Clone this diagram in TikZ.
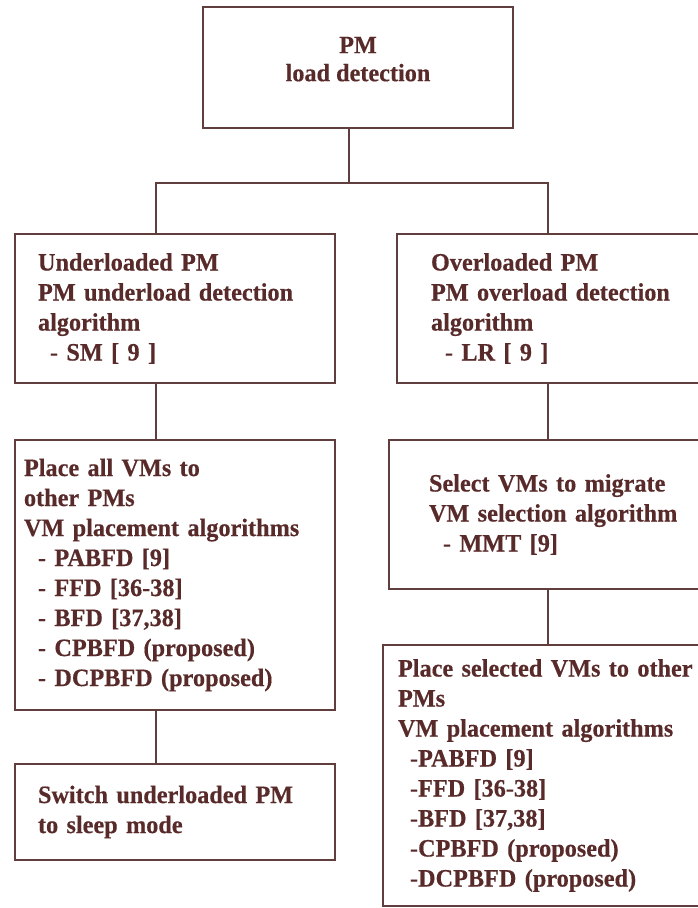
\documentclass[tikz,border=0pt]{standalone}
\usepackage{fontspec}
\setmainfont{Liberation Serif}[BoldFeatures={FakeStretch=0.97,FakeBold=0.4}]
\definecolor{txt}{RGB}{88,42,42}
\definecolor{ln}{RGB}{96,62,62}
\begin{document}
\begin{tikzpicture}[x=1pt,y=-1pt,
  box/.style={draw=ln, line width=1.8pt, rectangle, text=txt, inner ysep=0pt,
    font=\bfseries\fontsize{25}{30}\selectfont},
  conn/.style={draw=ln, line width=1.6pt}]
\useasboundingbox (0,0) rectangle (698,908);
\fill[white] (0,0) rectangle (698,908);
\clip (0,0) rectangle (698,908);

\node[box, minimum width=310pt, minimum height=121pt, align=center,
  font=\bfseries\fontsize{25}{28}\selectfont] (top) at (358,67.5)
  {PM\\load detection\rule[-17pt]{0pt}{17pt}};

\node[box, minimum width=320pt, minimum height=149pt, inner xsep=23pt, text width=274pt, align=left] (A) at (175,308.5)
  {Underloaded PM\\PM underload detection\\algorithm\\\hspace*{12pt}- SM [ 9 ]};

\node[box, minimum width=363pt, minimum height=149pt, inner xsep=34pt, text width=295pt, align=left] (B) at (578.5,308.5)
  {Overloaded PM\\PM overload detection\\algorithm\\\hspace*{14pt}- LR [ 9 ]};

\node[box, minimum width=320pt, minimum height=270pt, inner xsep=9pt, text width=302pt, align=left] (C) at (175,575)
  {Place all VMs to\\other PMs\\VM placement algorithms\\\hspace*{14pt}- PABFD [9]\\\hspace*{14pt}- FFD [36-38]\\\hspace*{14pt}- BFD [37,38]\\\hspace*{14pt}- CPBFD (proposed)\\\hspace*{14pt}- DCPBFD (proposed)};

\node[box, minimum width=320pt, minimum height=96pt, inner xsep=23pt, text width=274pt, align=left] (D) at (175,812)
  {Switch underloaded PM\\to sleep mode};

\node[box, minimum width=371pt, minimum height=149pt, inner xsep=40pt, text width=291pt, align=left] (E) at (574.5,514.5)
  {Select VMs to migrate\\VM selection algorithm\\\hspace*{14pt}- MMT [9]};

\node[box, minimum width=377pt, minimum height=261pt, inner xsep=15pt, text width=347pt, align=left] (F) at (571.5,775.5)
  {Place selected VMs to other\\PMs\\VM placement algorithms\\\hspace*{12pt}-PABFD [9]\\\hspace*{12pt}-FFD [36-38]\\\hspace*{12pt}-BFD [37,38]\\\hspace*{12pt}-CPBFD (proposed)\\\hspace*{12pt}-DCPBFD (proposed)};

\coordinate (j) at (349,183);
\coordinate (jl) at (156,183);
\coordinate (jr) at (548,183);
\draw[conn] (top.south -| j) -- (j);
\draw[conn] (A.north -| jl) -- (jl) -- (jr) -- (B.north -| jr);
\draw[conn] (A.south -| jl) -- (C.north -| jl);
\draw[conn] (C.south -| jl) -- (D.north -| jl);
\draw[conn] (B.south -| jr) -- (E.north -| jr);
\draw[conn] (E.south -| jr) -- (F.north -| jr);
\end{tikzpicture}
\end{document}
